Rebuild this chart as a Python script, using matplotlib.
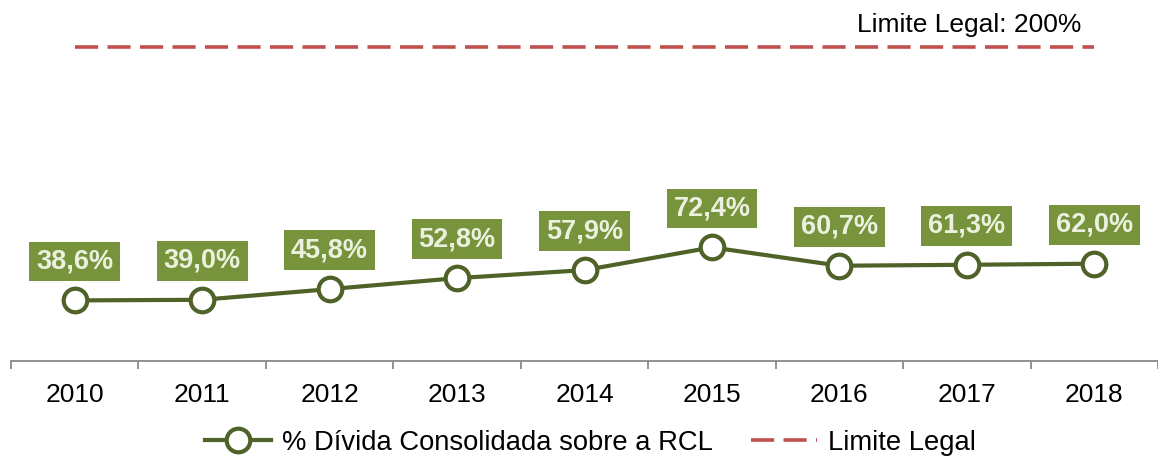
import numpy as np
import matplotlib
matplotlib.use("Agg")
import matplotlib.pyplot as plt

plt.rcParams['font.family'] = ['Liberation Sans', 'DejaVu Sans']

anos = ["2010", "2011", "2012", "2013", "2014", "2015", "2016", "2017", "2018"]
divida = [38.6, 39.0, 45.8, 52.8, 57.9, 72.4, 60.7, 61.3, 62.0]
limite = [200] * len(anos)
rotulos = ["38,6%", "39,0%", "45,8%", "52,8%", "57,9%", "72,4%", "60,7%", "61,3%", "62,0%"]

VERDE = "#4F6228"
VERDE_BOX = "#77933C"
VERMELHO = "#C0504D"

fig = plt.figure(figsize=(11.58, 4.59), dpi=100)
ax = fig.add_axes([11 / 1158, 98 / 459, 1147 / 1158, 361 / 459])

x = np.arange(len(anos))
ax.plot(x, limite, color=VERMELHO, lw=2.6, dashes=(6.4, 2.6), label="Limite Legal")
ax.plot(x, divida, color=VERDE, lw=3, marker="o", ms=17, mfc="white",
        mec=VERDE, mew=3, label="% Dívida Consolidada sobre a RCL", zorder=3)

for xi, yi, txt in zip(x, divida, rotulos):
    ax.annotate(txt, (xi, yi), xytext=(0, 28), textcoords="offset points",
                ha="center", va="center", fontsize=19.5, fontweight="bold",
                color="#EBF1DE",
                bbox=dict(boxstyle="square,pad=0.25", fc=VERDE_BOX, ec="none"))

ax.text(x[-1] - 0.1, 214, "Limite Legal: 200%", ha="right", va="center", fontsize=19)

ax.set_xlim(-0.5, len(anos) - 0.5)
ax.set_ylim(0, 230)
ax.set_yticks([])
for s in ["top", "right", "left"]:
    ax.spines[s].set_visible(False)
ax.spines["bottom"].set_color("#898989")
ax.spines["bottom"].set_linewidth(1.3)

ax.set_xticks(x)
ax.set_xticklabels(anos, fontsize=19)
ax.set_xticks(np.arange(len(anos) + 1) - 0.5, minor=True)
ax.tick_params(axis="x", which="major", length=0, pad=16)
ax.tick_params(axis="x", which="minor", length=6, width=1.3, color="#898989")

h, l = ax.get_legend_handles_labels()
fig.legend(h[::-1], l[::-1], loc="center", bbox_to_anchor=(0.51, 0.035), ncol=2,
           frameon=False, fontsize=19.7, handlelength=2.4, columnspacing=1.4,
           handletextpad=0.4)

fig.savefig("out.png", dpi=100)
